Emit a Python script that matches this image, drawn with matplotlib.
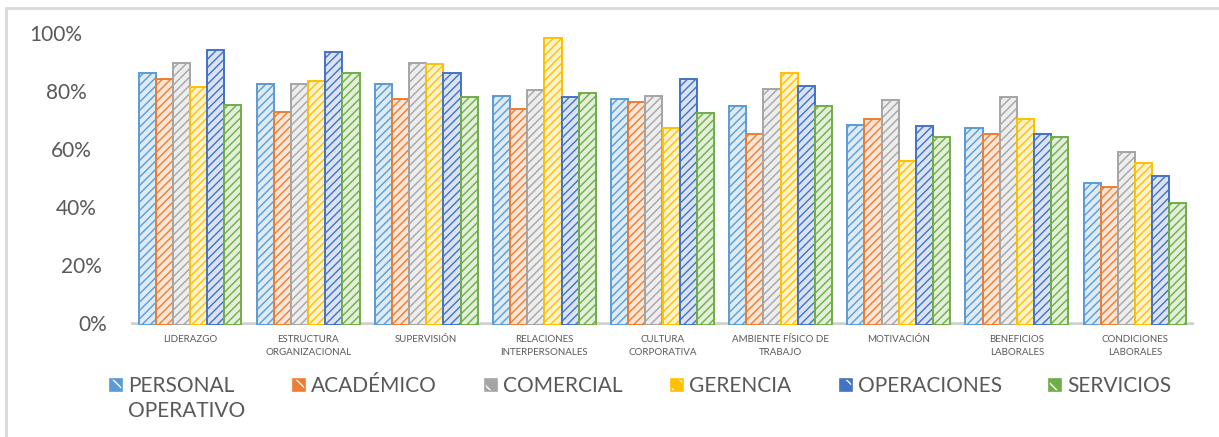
import numpy as np
import matplotlib
matplotlib.use('Agg')
import matplotlib.pyplot as plt
from matplotlib.patches import Rectangle
from matplotlib.transforms import blended_transform_factory

plt.rcParams['font.family'] = ['Lato', 'DejaVu Sans']
plt.rcParams['hatch.linewidth'] = 1.0

# datos (porcentaje de satisfacción por área)
categorias = ['LIDERAZGO', 'ESTRUCTURA\nORGANIZACIONAL', 'SUPERVISIÓN',
              'RELACIONES\nINTERPERSONALES', 'CULTURA\nCORPORATIVA',
              'AMBIENTE FÍSICO DE\nTRABAJO', 'MOTIVACIÓN',
              'BENEFICIOS\nLABORALES', 'CONDICIONES\nLABORALES']
series = ['PERSONAL\nOPERATIVO', 'ACADÉMICO', 'COMERCIAL', 'GERENCIA', 'OPERACIONES', 'SERVICIOS']

personal_operativo = [87, 83, 83, 79, 78, 75.5, 69, 68, 49]
academico = [85, 73.5, 78, 74.5, 77, 66, 71, 66, 47.5]
comercial = [90.5, 83, 90.5, 81, 79, 81.5, 77.5, 78.5, 59.5]
gerencia = [82, 84, 90, 99, 68, 87, 56.5, 71, 56]
operaciones = [95, 94, 87, 78.5, 85, 82.5, 68.5, 66, 51.5]
servicios = [76, 87, 78.5, 80, 73, 75.5, 65, 65, 42]
valores = [personal_operativo, academico, comercial, gerencia, operaciones, servicios]

y_ticks = [0, 20, 40, 60, 80, 100]

# colores estilo Excel (borde / relleno claro)
colores = ['#5B9BD5', '#ED7D31', '#A5A5A5', '#FFC000', '#4472C4', '#70AD47']
rellenos = ['#DDEBF7', '#FBE5D6', '#EDEDED', '#FFF2CC', '#DAE3F3', '#E2F0D9']
gris_texto = '#595959'

W, H = 1219, 437
fig = plt.figure(figsize=(W / 100, H / 100), dpi=100)
fig.patch.set_facecolor('white')

# borde del área del gráfico
fig.add_artist(Rectangle((6 / W, -0.05), 1.1, 1 - 8 / H + 0.05, transform=fig.transFigure,
                         facecolor='none', edgecolor='#D9D9D9', linewidth=2))

ax = fig.add_axes([131 / W, 112 / H, 1063 / W, 290 / H])
x = np.arange(len(categorias))
ancho = 0.145
for i, vals in enumerate(valores):
    ax.bar(x + (i - 2.5) * ancho, vals, ancho, facecolor=rellenos[i], edgecolor=colores[i],
           hatch='////', linewidth=1.4, zorder=2)

ax.axhline(0, color='#D0D0D0', linewidth=4, zorder=1)
ax.set_xlim(-0.5, len(categorias) - 0.5)
ax.set_ylim(0, 100)
ax.set_yticks([])
ax.set_xticks(x)
ax.set_xticklabels(categorias, fontsize=7, color=gris_texto, linespacing=1.6)
ax.tick_params(axis='x', length=0, pad=7)
for s in ax.spines.values():
    s.set_visible(False)

# etiquetas del eje Y (ligera inclinación por la perspectiva 3D)
tr = blended_transform_factory(fig.transFigure, ax.transData)
for v in y_ticks:
    ax.text((107 - 0.25 * v) / W, v, f'{v}%', transform=tr, ha='right', va='center',
            fontsize=15, color=gris_texto)

# leyenda (cuadro de color con rayado blanco)
x_marcas = [110, 293, 485, 671, 840, 1049]
for i, nombre in enumerate(series):
    xm = x_marcas[i]
    fig.add_artist(Rectangle((xm / W, 1 - 391 / H), 12 / W, 12 / H, transform=fig.transFigure,
                             facecolor=colores[i], edgecolor='none'))
    fig.add_artist(Rectangle((xm / W, 1 - 391 / H), 12 / W, 12 / H, transform=fig.transFigure,
                             facecolor='none', edgecolor='white', hatch='\\\\', linewidth=0))
    fig.add_artist(Rectangle((xm / W, 1 - 391 / H), 12 / W, 12 / H, transform=fig.transFigure,
                             facecolor='none', edgecolor=colores[i], linewidth=1.2))
    fig.text((xm + 18) / W, 1 - 376 / H, nombre, ha='left', va='top', fontsize=15,
             color=gris_texto, linespacing=1.3)

fig.savefig('out.png', dpi=100)
